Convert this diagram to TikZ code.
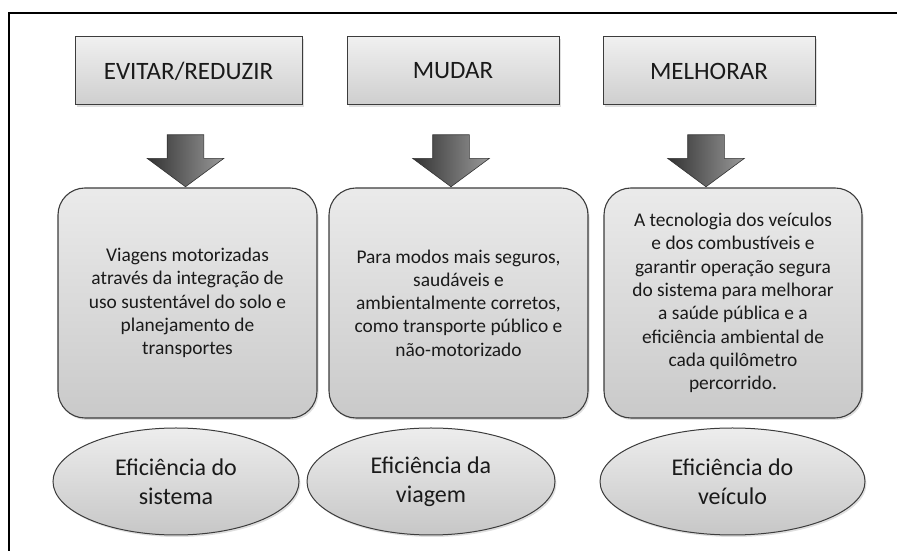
\documentclass[tikz,border=0pt]{standalone}
\usepackage{fontspec}
\setmainfont{Carlito}
\usepackage{tikz}
\usetikzlibrary{shapes.geometric,shapes.arrows,shadows}
\definecolor{linha}{HTML}{3C3C3C}
\definecolor{texto}{HTML}{1A1A1A}

\tikzset{
  sombra/.style={drop shadow={shadow xshift=1.5pt, shadow yshift=-2pt, opacity=.25}},
  topo/.style={draw=linha, line width=1pt, top color=black!6, bottom color=black!19,
    minimum height=68pt, text=texto, font=\fontsize{25}{30}\selectfont, sombra},
  caixa/.style={draw=linha, line width=1.1pt, rounded corners=27pt, top color=black!8,
    bottom color=black!21, minimum height=230pt, align=center, text=texto,
    font=\fontsize{19.4}{23.3}\selectfont, sombra},
  elip/.style={ellipse, draw=linha, line width=1pt, top color=black!7, bottom color=black!22,
    minimum height=107pt, inner sep=0pt, align=center, text=texto,
    font=\fontsize{24}{29}\selectfont, sombra},
  seta/.style={single arrow, shape border rotate=270, draw=black!80, line width=.6pt,
    left color=black!80, right color=black!40, minimum height=52pt,
    single arrow head extend=20pt, single arrow tip angle=107, inner xsep=18pt, inner ysep=0pt}
}

\begin{document}
\begin{tikzpicture}[x=1pt,y=1pt]

    \useasboundingbox (0,0) rectangle (897,551);
    % moldura
    \coordinate (m0) at (9,0);
    \coordinate (m1) at (9,538);
    \coordinate (m2) at (897,538);
    \draw[line width=2pt] (m0) -- (m1) -- (m2);

    % topo
    \node (t1) at (188.5,480) [topo, minimum width=227pt] {EVITAR/REDUZIR};
    \node (t2) at (453,480)   [topo, minimum width=212pt] {MUDAR};
    \node (t3) at (709,480)   [topo, minimum width=212pt] {MELHORAR};

    % setas
    \foreach \i/\x in {1/185.5,2/451,3/706}
             { \node (s\i) at (\x,397) [seta] {};}

    % caixas
    \node (c1) at (187.5,248) [caixa, minimum width=259pt]
          {Viagens motorizadas\\através da integração de\\uso sustentável do solo e\\planejamento de\\transportes};
    \node (c2) at (458.5,248) [caixa, minimum width=259pt]
          {Para modos mais seguros,\\saudáveis e\\ambientalmente corretos,\\como transporte público e\\não-motorizado};
    \node (c3) at (733,248)   [caixa, minimum width=258pt]
          {A tecnologia dos veículos\\e dos combustíveis e\\garantir operação segura\\do sistema para melhorar\\a saúde pública e a\\eficiência ambiental de\\cada quilômetro\\percorrido.};

    % elipses
    \node (e1) at (176,69.5)   [elip, minimum width=246pt] {Eficiência do\\sistema};
    \node (e2) at (431,69.5)   [elip, minimum width=248pt] {Eficiência da\\viagem};
    \node (e3) at (732.5,69.5) [elip, minimum width=265pt] {Eficiência do\\veículo};

\end{tikzpicture}
\end{document}
